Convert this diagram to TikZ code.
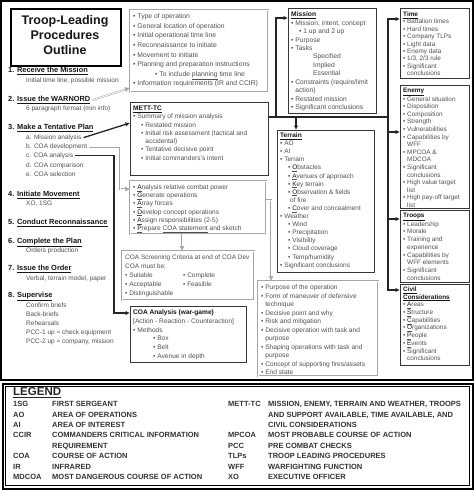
\documentclass[tikz,border=0pt]{standalone}
\usepackage{fontspec}
\setmainfont{Liberation Sans}
\usetikzlibrary{arrows.meta}
\definecolor{txtgray}{HTML}{515151}
\definecolor{boxgray}{HTML}{A6A6A6}
\definecolor{darkline}{HTML}{363636}
\definecolor{headblack}{HTML}{161616}
\newcommand\bu{\textbullet\ }
\newcommand\hb{\hphantom{\textbullet\ }}
\newcommand\subi{\hspace*{8pt}}
\newcommand\hd[1]{\textcolor{headblack}{\textbf{\underline{#1}}}}
\newcommand\fl[1]{\underline{\textcolor{headblack}{#1}}}
\newcommand\fsz[2]{\fontsize{#1}{#2}\selectfont}
\begin{document}
\begin{tikzpicture}[x=1pt,y=-1pt,
 gbox/.style={rectangle,draw=boxgray,double=white,double distance=0.7pt,line width=0.45pt,inner sep=0pt,anchor=north west},
 dbox/.style={rectangle,draw=darkline,line width=1.4pt,inner sep=0pt,anchor=north west},
 tbox/.style={rectangle,draw=black,line width=1.6pt,inner sep=0pt,anchor=north west},
 btxt/.style={anchor=north west,inner sep=0pt,align=left,text=txtgray},
 steph/.style={anchor=base west,inner sep=0pt,font=\fsz{7.4}{9}\bfseries,text=headblack},
 stept/.style={anchor=base west,inner sep=0pt,font=\fsz{6.5}{8},text=txtgray},
 blackarrow/.style={draw=black!85,line width=1.3pt,-{Latex[length=4.5pt,width=4.5pt]}},
 blackline/.style={draw=black!85,line width=1.3pt},
 grayarrow/.style={draw=boxgray,double=white,double distance=0.8pt,line width=0.5pt,-{Latex[length=5pt,width=5pt]}},
 leg/.style={anchor=base west,inner sep=0pt,font=\fsz{7.5}{9}\bfseries,text=black!80},
]
\fill[white] (0,0) rectangle (474,490);
\useasboundingbox (0,0) rectangle (474,490);
\draw[line width=2pt,black] (1,1) rectangle (473,380);

% ---------- title ----------
\node[tbox,minimum width=110pt,minimum height=57pt] (titlebox) at (10,8) {};
\node[inner sep=0pt,align=center,font=\fsz{12.5}{15}\bfseries,text=headblack] (title) at (65,35.5) {Troop-Leading\\Procedures\\Outline};

% ---------- left column ----------
\node[steph] (s1) at (8,72.7) {1. \underline{Receive the Mission}};
\node[stept] (s1t) at (26,82.3) {Initial time line, possible mission};
\node[steph] (s2) at (8,101.7) {2. \underline{Issue the WARNORD}};
\node[stept] (s2t) at (26,110.3) {6 paragraph format (min info)};
\node[steph] (s3) at (8,129.7) {3. \underline{Make a Tentative Plan}};
\node[stept] (s3a) at (26,139.3) {a. Mission analysis};
\node[stept] (s3b) at (26,148.3) {b. COA development};
\node[stept] (s3c) at (26,157.3) {c. COA analysis};
\node[stept] (s3d) at (26,167.3) {d. COA comparison};
\node[stept] (s3e) at (26,176.3) {e. COA selection};
\node[steph] (s4) at (8,196.7) {4. \underline{Initiate Movement}};
\node[stept] (s4t) at (26,205.3) {XO, 1SG};
\node[steph] (s5) at (8,224.7) {5. \underline{Conduct Reconnaissance}};
\node[steph] (s6) at (8,243.7) {6. \underline{Complete the Plan}};
\node[stept] (s6t) at (26,252.3) {Orders production};
\node[steph] (s7) at (8,270.7) {7. \underline{Issue the Order}};
\node[stept] (s7t) at (26,280.3) {Verbal, terrain model, paper};
\node[steph] (s8) at (8,297.7) {8. \underline{Supervise}};
\node[stept] (s8a) at (26,307.3) {Confirm briefs};
\node[stept] (s8b) at (26,316.3) {Back-briefs};
\node[stept] (s8c) at (26,325.3) {Rehearsals};
\node[stept] (s8d) at (26,334.3) {PCC-1 up = check equipment};
\node[stept] (s8e) at (26,343.3) {PCC-2 up = company, mission};

% ---------- middle column ----------
\node[gbox,minimum width=138pt,minimum height=82pt] (warnbox) at (130,10) {};
\node[btxt,font=\fsz{6.8}{9.6}] (warntxt) at (133,13.6) {\bu Type of operation\\
\bu General location of operation\\
\bu Initial operational time line\\
\bu Reconnaissance to initiate\\
\bu Movement to initiate\\
\bu Planning and preparation instructions\\
\hspace*{22pt}\bu To include \underline{planning} time line\\
\bu Information requirements (IR and CCIR)};

\node[dbox,minimum width=138pt,minimum height=73pt] (mettbox) at (130,102) {};
\node[btxt,font=\fsz{6.6}{8.3}] (metttxt) at (133,105.6) {\hd{METT-TC}\\
\bu Summary of mission analysis\\
\subi\bu Restated mission\\
\subi\bu Initial risk assessment (tactical and\\
\subi\hb accidental)\\
\subi\bu Tentative decisive point\\
\subi\bu Initial commanders's intent};

\node[gbox,minimum width=136pt,minimum height=53pt] (anabox) at (130,181) {};
\node[btxt,font=\fsz{6.6}{8.2}] (anatxt) at (133,184.6) {\bu \fl{A}nalysis relative combat power\\
\bu \fl{G}enerate operations\\
\bu \fl{A}rray forces\\
\bu \fl{D}evelop concept operations\\
\bu \fl{A}ssign responsibilities (2-5)\\
\bu \fl{P}repare \underline{COA statement} and sketch};

\node[gbox,minimum width=132pt,minimum height=49pt] (screenbox) at (122,251) {};
\node[btxt,font=\fsz{6.5}{9}] (screentxt) at (125,254.6) {COA Screening Criteria at end of COA Dev\\
COA must be:\\
\makebox[58pt][l]{\bu Suitable}\bu Complete\\
\makebox[58pt][l]{\bu Acceptable}\bu Feasible\\
\bu Distinguishable};

\node[dbox,minimum width=116pt,minimum height=56pt] (coabox) at (130,306) {};
\node[btxt,font=\fsz{6.6}{8.8}] (coatxt) at (133,309.6) {\textcolor{headblack}{\textbf{COA Analysis (war-game)}}\\
{[}Action - Reaction - Counteraction{]}\\
\bu Methods\\
\hspace*{20pt}\bu Box\\
\hspace*{20pt}\bu Belt\\
\hspace*{20pt}\bu Avenue in depth};

% ---------- mission / terrain / purpose ----------
\node[dbox,minimum width=88pt,minimum height=105pt] (missionbox) at (288,8) {};
\node[btxt,font=\fsz{6.7}{8.45}] (missiontxt) at (291,11.6) {\hd{Mission}\\
\bu Mission, intent, concept\\
\subi\bu 1 up and 2 up\\
\bu Purpose\\
\bu Tasks\\
\hspace*{22pt}Specified\\
\hspace*{22pt}Implied\\
\hspace*{22pt}Essential\\
\bu Constraints (require/limit\\
\hb action)\\
\bu Restated mission\\
\bu Significant conclusions};

\node[dbox,minimum width=97pt,minimum height=142pt] (terrainbox) at (277,130) {};
\node[btxt,font=\fsz{6.5}{8.1}] (terraintxt) at (280,132.6) {\hd{Terrain}\\
\bu AO\\
\bu AI\\
\bu Terrain\\
\subi\bu \fl{O}bstacles\\
\subi\bu \fl{A}venues of approach\\
\subi\bu \fl{K}ey terrain\\
\subi\bu \fl{O}bservation \& fields\\
\subi\hspace*{2pt}of fire\\
\subi\bu \fl{C}over and concealment\\
\bu Weather\\
\subi\bu Wind\\
\subi\bu Precipitation\\
\subi\bu Visibility\\
\subi\bu Cloud coverage\\
\subi\bu Temp/humidity\\
\bu Significant conclusions};

\node[gbox,minimum width=120pt,minimum height=95pt] (purposebox) at (258,281) {};
\node[btxt,font=\fsz{6.6}{8.5}] (purposetxt) at (261,284.6) {\bu Purpose of the operation\\
\bu Form of maneuver of defensive\\
\hb technique\\
\bu Decisive point and why\\
\bu Risk and mitigation\\
\bu Decisive operation with task and\\
\hb purpose\\
\bu Shaping operations with task and\\
\hb purpose\\
\bu Concept of supporting fires/assets\\
\bu End state};

% ---------- right column ----------
\node[dbox,minimum width=69pt,minimum height=70pt] (timebox) at (400,8) {};
\node[btxt,font=\fsz{6.4}{7.4}] (timetxt) at (403,11.6) {\hd{Time}\\
\bu Battalion times\\
\bu Hard times\\
\bu Company TLPs\\
\bu Light data\\
\bu Enemy data\\
\bu 1/3, 2/3 rule\\
\bu Significant\\
\hb conclusions};

\node[dbox,minimum width=69pt,minimum height=123pt] (enemybox) at (400,85) {};
\node[btxt,font=\fsz{6.4}{7.6}] (enemytxt) at (403,87.6) {\hd{Enemy}\\
\bu General situation\\
\bu Disposition\\
\bu Composition\\
\bu Strength\\
\bu Vulnerabilities\\
\bu Capabilities by\\
\hb WFF\\
\bu MPCOA \&\\
\hb MDCOA\\
\bu Significant\\
\hb conclusions\\
\bu High value target\\
\hb list\\
\bu High pay-off target\\
\hb list};

\node[dbox,minimum width=69pt,minimum height=72pt] (troopsbox) at (400,210) {};
\node[btxt,font=\fsz{6.4}{7.75}] (troopstxt) at (403,212.6) {\hd{Troops}\\
\bu Leadership\\
\bu Morale\\
\bu Training and\\
\hb experience\\
\bu Capabilities by\\
\hb WFF elements\\
\bu Significant\\
\hb conclusions};

\node[dbox,minimum width=69pt,minimum height=81pt] (civilbox) at (400,284) {};
\node[btxt,font=\fsz{6.4}{7.7}] (civiltxt) at (403,286.6) {\hd{Civil}\\
\hd{Considerations}\\
\bu \fl{A}reas\\
\bu \fl{S}tructure\\
\bu \fl{C}apabilities\\
\bu \fl{O}rganizations\\
\bu \fl{P}eople\\
\bu \fl{E}vents\\
\bu Significant\\
\hb conclusions};

% ---------- connectors ----------
\coordinate (warnIn) at (warnbox.west |- 0,88);
\coordinate (mettIn) at (mettbox.west |- 0,123);
\coordinate (anaIn) at (anabox.west |- 0,189);
\coordinate (coaIn) at (coabox.west |- 0,313);
\coordinate (bx) at (120,0);
\coordinate (cx) at (114,0);
\draw[grayarrow] ([xshift=2pt]s2.east) -- (warnIn);
\draw[blackarrow] ([xshift=2pt]s3a.east) -- (mettIn);
\draw[grayarrow] ([xshift=2pt]s3b.east) -- (bx |- s3b.east) -- (bx |- anaIn) -- (anaIn);
\draw[blackarrow] ([xshift=2pt]s3c.east) -- (cx |- s3c.east) -- (cx |- coaIn) -- (coaIn);

\coordinate (mettOut) at (mettbox.east |- 0,117);
\coordinate (mx) at (276,0);
\coordinate (tx) at (296,0);
\coordinate (busx) at (388,0);
\coordinate (missionIn) at (missionbox.west |- 0,18);
\coordinate (timeIn) at (timebox.west |- 0,19);
\coordinate (enemyIn) at (enemybox.west |- 0,132);
\coordinate (troopsIn) at (troopsbox.west |- 0,219);
\coordinate (civilIn) at (civilbox.west |- 0,290);
\draw[blackline] (mettOut) -- (busx |- mettOut);
\draw[blackarrow] (mettOut) -- (mx |- mettOut) -- (mx |- missionIn) -- (missionIn);
\draw[blackarrow] (tx |- mettOut) -- (tx |- terrainbox.north);
\draw[blackarrow] (busx |- mettOut) -- (busx |- timeIn) -- (timeIn);
\draw[blackarrow] (busx |- mettOut) -- (busx |- civilIn) -- (civilIn);
\draw[blackarrow] (busx |- enemyIn) -- (enemyIn);
\draw[blackarrow] (busx |- troopsIn) -- (troopsIn);

\coordinate (anaOut) at (anabox.east |- 0,200);
\coordinate (gx) at (271,0);
\coordinate (ax) at (182,0);
\draw[grayarrow] (anaOut) -- (gx |- anaOut) -- (gx |- purposebox.north);
\draw[grayarrow] (ax |- anabox.south) -- (ax |- screenbox.north);

% ---------- legend ----------
\node[tbox,minimum width=470pt,minimum height=105pt] (legendbox) at (2,383) {};
\draw[line width=0.5pt,black] (5,386) rectangle (469,485);
\node[anchor=base west,inner sep=0pt,font=\fsz{11.5}{13}\bfseries,text=black!85] (legtitle) at (13,395.5) {\underline{LEGEND}};
\node[leg] (l1a) at (13,406.6) {1SG};   \node[leg] (l1b) at (52,406.6) {FIRST SERGEANT};
\node[leg] (l2a) at (13,417.0) {AO};    \node[leg] (l2b) at (52,417.0) {AREA OF OPERATIONS};
\node[leg] (l3a) at (13,427.4) {AI};    \node[leg] (l3b) at (52,427.4) {AREA OF INTEREST};
\node[leg] (l4a) at (13,437.8) {CCIR};  \node[leg] (l4b) at (52,437.8) {COMMANDERS CRITICAL INFORMATION};
\node[leg] (l5b) at (52,448.2) {REQUIREMENT};
\node[leg] (l6a) at (13,458.6) {COA};   \node[leg] (l6b) at (52,458.6) {COURSE OF ACTION};
\node[leg] (l7a) at (13,469.0) {IR};    \node[leg] (l7b) at (52,469.0) {INFRARED};
\node[leg] (l8a) at (13,479.4) {MDCOA}; \node[leg] (l8b) at (52,479.4) {MOST DANGEROUS COURSE OF ACTION};
\node[leg] (r1a) at (228,406.6) {METT-TC}; \node[leg] (r1b) at (268,406.6) {MISSION, ENEMY, TERRAIN AND WEATHER, TROOPS};
\node[leg] (r2b) at (268,417.0) {AND SUPPORT AVAILABLE, TIME AVAILABLE, AND};
\node[leg] (r3b) at (268,427.4) {CIVIL CONSIDERATIONS};
\node[leg] (r4a) at (228,437.8) {MPCOA}; \node[leg] (r4b) at (268,437.8) {MOST PROBABLE COURSE OF ACTION};
\node[leg] (r5a) at (228,448.2) {PCC};   \node[leg] (r5b) at (268,448.2) {PRE COMBAT CHECKS};
\node[leg] (r6a) at (228,458.6) {TLPs};  \node[leg] (r6b) at (268,458.6) {TROOP LEADING PROCEDURES};
\node[leg] (r7a) at (228,469.0) {WFF};   \node[leg] (r7b) at (268,469.0) {WARFIGHTING FUNCTION};
\node[leg] (r8a) at (228,479.4) {XO};    \node[leg] (r8b) at (268,479.4) {EXECUTIVE OFFICER};
\end{tikzpicture}
\end{document}
